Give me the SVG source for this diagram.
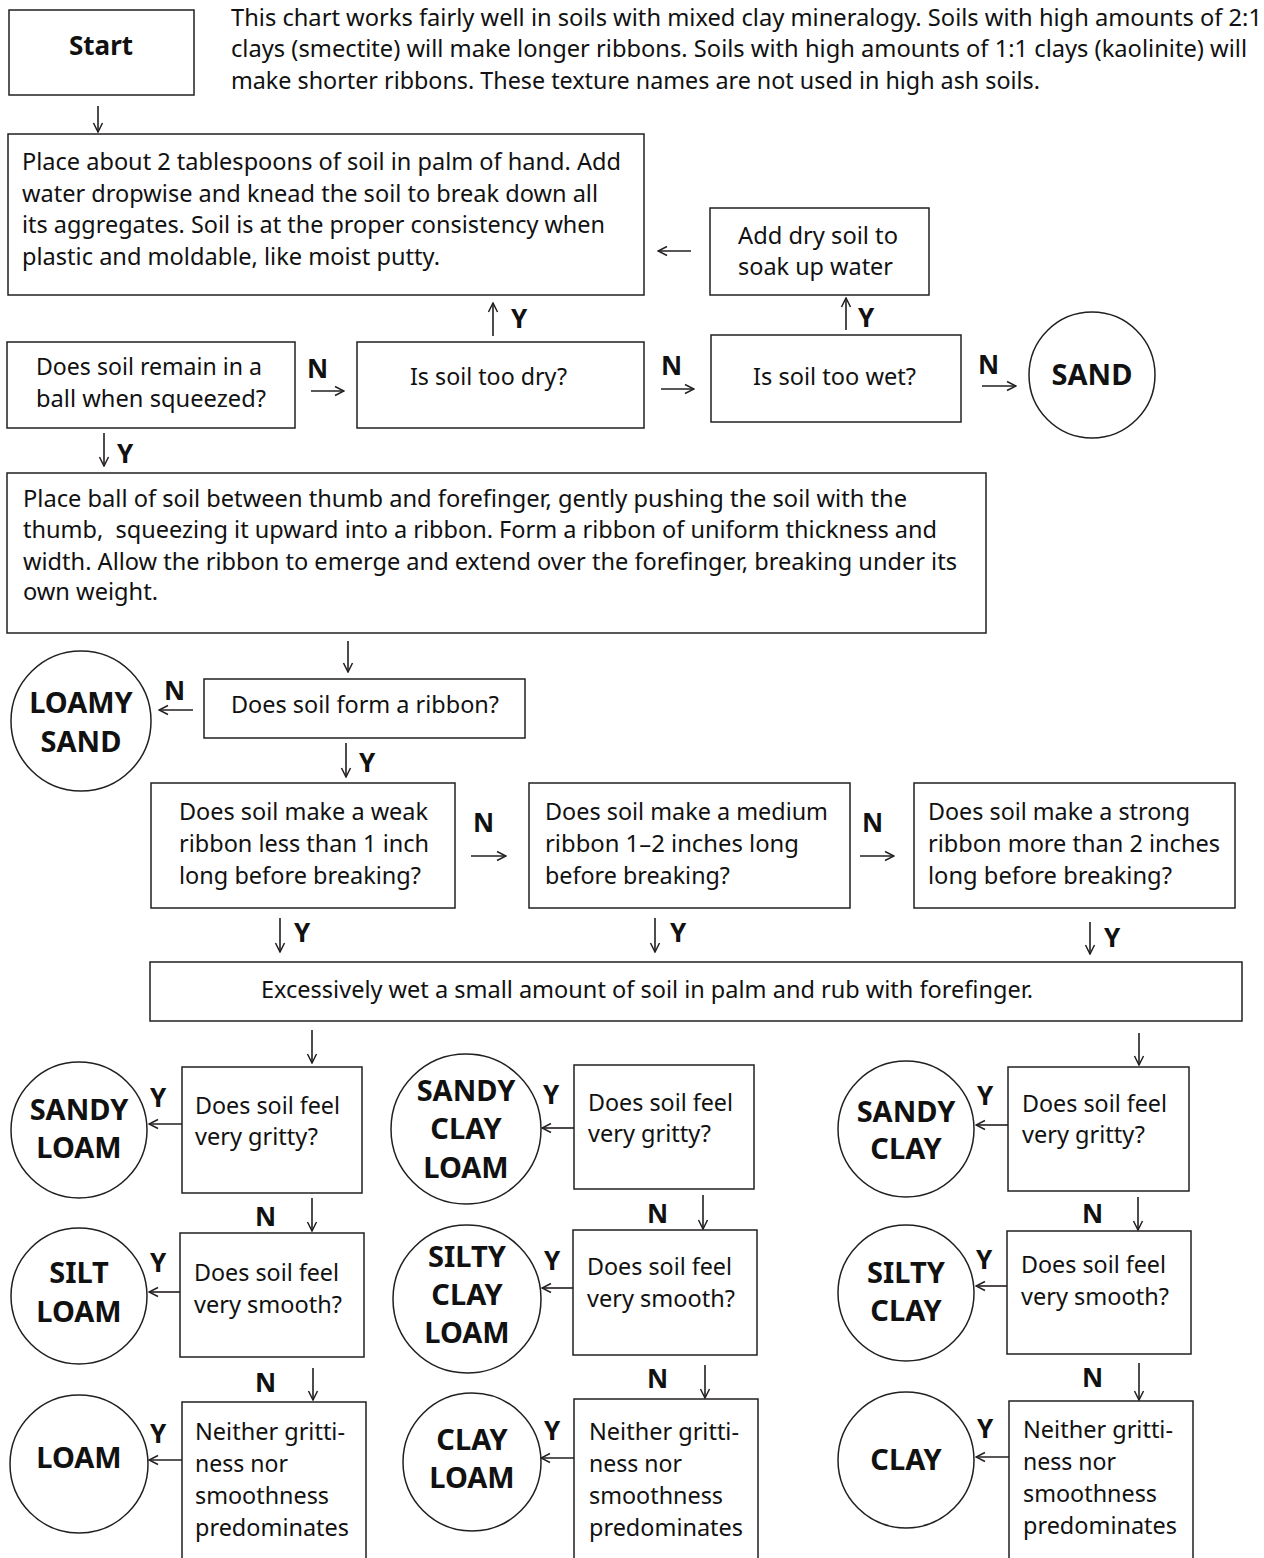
<svg xmlns="http://www.w3.org/2000/svg" width="1264" height="1558" viewBox="0 0 1264 1558">
<defs>
<style>
.box{fill:#fff;stroke:#231f20;stroke-width:1.5}
.open{fill:none;stroke:#231f20;stroke-width:1.5}
.t{font-family:"Noto Sans","Open Sans",sans-serif;font-size:23px;fill:#111}
.b{font-family:"Noto Sans","Open Sans",sans-serif;font-weight:700;font-size:29px;fill:#111;text-anchor:middle}
.lbl{font-family:"Noto Sans","Open Sans",sans-serif;font-weight:700;font-size:26px;fill:#111}
.c{stroke:#231f20;stroke-width:1.6;fill:none;marker-end:url(#ah)}
</style>
<marker id="ah" viewBox="-11 -6 12 12" refX="0" refY="0" markerWidth="12" markerHeight="12" markerUnits="userSpaceOnUse" orient="auto">
<path d="M-9,-4.5 L0,0 L-9,4.5" fill="none" stroke="#231f20" stroke-width="1.5"/>
</marker>
</defs>
<rect width="1264" height="1558" fill="#fff"/>

<g id="start">
<rect class="box" x="9" y="10" width="185" height="85"/>
<text class="b" x="101" y="55" style="font-size:26px">Start</text>
</g>

<g id="intro">
<text class="t" x="231" y="26" textLength="1031" lengthAdjust="spacingAndGlyphs">This chart works fairly well in soils with mixed clay mineralogy. Soils with high amounts of 2:1</text>
<text class="t" x="231" y="57" textLength="1016" lengthAdjust="spacingAndGlyphs">clays (smectite) will make longer ribbons. Soils with high amounts of 1:1 clays (kaolinite) will</text>
<text class="t" x="231" y="89" textLength="809" lengthAdjust="spacingAndGlyphs">make shorter ribbons. These texture names are not used in high ash soils.</text>
</g>

<g id="prepare">
<rect class="box" x="8" y="134" width="636" height="161"/>
<text class="t" x="22" y="170" textLength="599" lengthAdjust="spacingAndGlyphs">Place about 2 tablespoons of soil in palm of hand. Add</text>
<text class="t" x="22" y="202" textLength="576" lengthAdjust="spacingAndGlyphs">water dropwise and knead the soil to break down all</text>
<text class="t" x="22" y="233" textLength="583" lengthAdjust="spacingAndGlyphs">its aggregates. Soil is at the proper consistency when</text>
<text class="t" x="22" y="265" textLength="418" lengthAdjust="spacingAndGlyphs">plastic and moldable, like moist putty.</text>
</g>

<g id="add-dry">
<rect class="box" x="710" y="208" width="219" height="87"/>
<text class="t" x="738" y="244" textLength="160" lengthAdjust="spacingAndGlyphs">Add dry soil to</text>
<text class="t" x="738" y="275" textLength="155" lengthAdjust="spacingAndGlyphs">soak up water</text>
</g>

<g id="ball">
<rect class="box" x="7" y="342" width="288" height="86"/>
<text class="t" x="36" y="375" textLength="226" lengthAdjust="spacingAndGlyphs">Does soil remain in a</text>
<text class="t" x="36" y="407" textLength="230" lengthAdjust="spacingAndGlyphs">ball when squeezed?</text>
</g>

<g id="too-dry">
<rect class="box" x="357" y="342" width="287" height="86"/>
<text class="t" x="410" y="385" textLength="157" lengthAdjust="spacingAndGlyphs">Is soil too dry?</text>
</g>

<g id="too-wet">
<rect class="box" x="711" y="335" width="250" height="87"/>
<text class="t" x="753" y="385" textLength="163" lengthAdjust="spacingAndGlyphs">Is soil too wet?</text>
</g>

<g id="sand">
<circle class="box" cx="1092" cy="375" r="63"/>
<text class="b" x="1092" y="385">SAND</text>
</g>

<g id="ribbon-instr">
<rect class="box" x="7" y="473" width="979" height="160"/>
<text class="t" x="23" y="507" textLength="884" lengthAdjust="spacingAndGlyphs">Place ball of soil between thumb and forefinger, gently pushing the soil with the</text>
<text class="t" x="23" y="538" textLength="914" lengthAdjust="spacingAndGlyphs" style="white-space:pre">thumb,  squeezing it upward into a ribbon. Form a ribbon of uniform thickness and</text>
<text class="t" x="23" y="570" textLength="934" lengthAdjust="spacingAndGlyphs">width. Allow the ribbon to emerge and extend over the forefinger, breaking under its</text>
<text class="t" x="23" y="600" textLength="135" lengthAdjust="spacingAndGlyphs">own weight.</text>
</g>

<g id="form-ribbon">
<rect class="box" x="204" y="679" width="321" height="59"/>
<text class="t" x="231" y="713" textLength="268" lengthAdjust="spacingAndGlyphs">Does soil form a ribbon?</text>
</g>

<g id="loamy-sand">
<circle class="box" cx="81" cy="721" r="70"/>
<text class="b" x="81" y="713">LOAMY</text>
<text class="b" x="81" y="752">SAND</text>
</g>

<g id="weak">
<rect class="box" x="151" y="783" width="304" height="125"/>
<text class="t" x="179" y="820" textLength="249" lengthAdjust="spacingAndGlyphs">Does soil make a weak</text>
<text class="t" x="179" y="852" textLength="250" lengthAdjust="spacingAndGlyphs">ribbon less than 1 inch</text>
<text class="t" x="179" y="884" textLength="242" lengthAdjust="spacingAndGlyphs">long before breaking?</text>
</g>

<g id="medium">
<rect class="box" x="529" y="783" width="321" height="125"/>
<text class="t" x="545" y="820" textLength="283" lengthAdjust="spacingAndGlyphs">Does soil make a medium</text>
<text class="t" x="545" y="852" textLength="254" lengthAdjust="spacingAndGlyphs">ribbon 1–2 inches long</text>
<text class="t" x="545" y="884" textLength="185" lengthAdjust="spacingAndGlyphs">before breaking?</text>
</g>

<g id="strong">
<rect class="box" x="914" y="783" width="321" height="125"/>
<text class="t" x="928" y="820" textLength="262" lengthAdjust="spacingAndGlyphs">Does soil make a strong</text>
<text class="t" x="928" y="852" textLength="292" lengthAdjust="spacingAndGlyphs">ribbon more than 2 inches</text>
<text class="t" x="928" y="884" textLength="244" lengthAdjust="spacingAndGlyphs">long before breaking?</text>
</g>

<g id="wet-rub">
<rect class="box" x="150" y="962" width="1092" height="59"/>
<text class="t" x="261" y="998" textLength="772" lengthAdjust="spacingAndGlyphs">Excessively wet a small amount of soil in palm and rub with forefinger.</text>
</g>

<!-- left column -->
<g id="l-gritty">
<rect class="box" x="182" y="1067" width="180" height="126"/>
<text class="t" x="195" y="1114" textLength="145" lengthAdjust="spacingAndGlyphs">Does soil feel</text>
<text class="t" x="195" y="1145" textLength="123" lengthAdjust="spacingAndGlyphs">very gritty?</text>
</g>
<g id="sandy-loam">
<circle class="box" cx="79" cy="1130" r="68"/>
<text class="b" x="79" y="1120">SANDY</text>
<text class="b" x="79" y="1158">LOAM</text>
</g>
<g id="l-smooth">
<rect class="box" x="180" y="1233" width="184" height="124"/>
<text class="t" x="194" y="1281" textLength="145" lengthAdjust="spacingAndGlyphs">Does soil feel</text>
<text class="t" x="194" y="1313" textLength="148" lengthAdjust="spacingAndGlyphs">very smooth?</text>
</g>
<g id="silt-loam">
<circle class="box" cx="79" cy="1296" r="68"/>
<text class="b" x="79" y="1283">SILT</text>
<text class="b" x="79" y="1322">LOAM</text>
</g>
<g id="l-neither">
<path class="open" d="M182,1558 V1402 H366 V1558"/>
<text class="t" x="195" y="1440" textLength="150" lengthAdjust="spacingAndGlyphs">Neither gritti-</text>
<text class="t" x="195" y="1472" textLength="93" lengthAdjust="spacingAndGlyphs">ness nor</text>
<text class="t" x="195" y="1504" textLength="134" lengthAdjust="spacingAndGlyphs">smoothness</text>
<text class="t" x="195" y="1536" textLength="154" lengthAdjust="spacingAndGlyphs">predominates</text>
</g>
<g id="loam">
<circle class="box" cx="79" cy="1464" r="69"/>
<text class="b" x="79" y="1468">LOAM</text>
</g>

<!-- middle column -->
<g id="m-gritty">
<rect class="box" x="574" y="1065" width="180" height="124"/>
<text class="t" x="588" y="1111" textLength="145" lengthAdjust="spacingAndGlyphs">Does soil feel</text>
<text class="t" x="588" y="1142" textLength="123" lengthAdjust="spacingAndGlyphs">very gritty?</text>
</g>
<g id="sandy-clay-loam">
<circle class="box" cx="466" cy="1129" r="75"/>
<text class="b" x="466" y="1101">SANDY</text>
<text class="b" x="466" y="1139">CLAY</text>
<text class="b" x="466" y="1178">LOAM</text>
</g>
<g id="m-smooth">
<rect class="box" x="573" y="1230" width="184" height="125"/>
<text class="t" x="587" y="1275" textLength="145" lengthAdjust="spacingAndGlyphs">Does soil feel</text>
<text class="t" x="587" y="1307" textLength="148" lengthAdjust="spacingAndGlyphs">very smooth?</text>
</g>
<g id="silty-clay-loam">
<circle class="box" cx="467" cy="1299" r="74"/>
<text class="b" x="467" y="1267">SILTY</text>
<text class="b" x="467" y="1305">CLAY</text>
<text class="b" x="467" y="1343">LOAM</text>
</g>
<g id="m-neither">
<path class="open" d="M574,1558 V1399 H758 V1558"/>
<text class="t" x="589" y="1440" textLength="150" lengthAdjust="spacingAndGlyphs">Neither gritti-</text>
<text class="t" x="589" y="1472" textLength="93" lengthAdjust="spacingAndGlyphs">ness nor</text>
<text class="t" x="589" y="1504" textLength="134" lengthAdjust="spacingAndGlyphs">smoothness</text>
<text class="t" x="589" y="1536" textLength="154" lengthAdjust="spacingAndGlyphs">predominates</text>
</g>
<g id="clay-loam">
<circle class="box" cx="472" cy="1462" r="69"/>
<text class="b" x="472" y="1450">CLAY</text>
<text class="b" x="472" y="1488">LOAM</text>
</g>

<!-- right column -->
<g id="r-gritty">
<rect class="box" x="1008" y="1067" width="181" height="124"/>
<text class="t" x="1022" y="1112" textLength="145" lengthAdjust="spacingAndGlyphs">Does soil feel</text>
<text class="t" x="1022" y="1143" textLength="123" lengthAdjust="spacingAndGlyphs">very gritty?</text>
</g>
<g id="sandy-clay">
<circle class="box" cx="906" cy="1129" r="68"/>
<text class="b" x="906" y="1122">SANDY</text>
<text class="b" x="906" y="1159">CLAY</text>
</g>
<g id="r-smooth">
<rect class="box" x="1007" y="1231" width="184" height="123"/>
<text class="t" x="1021" y="1273" textLength="145" lengthAdjust="spacingAndGlyphs">Does soil feel</text>
<text class="t" x="1021" y="1305" textLength="148" lengthAdjust="spacingAndGlyphs">very smooth?</text>
</g>
<g id="silty-clay">
<circle class="box" cx="906" cy="1293" r="68"/>
<text class="b" x="906" y="1283">SILTY</text>
<text class="b" x="906" y="1321">CLAY</text>
</g>
<g id="r-neither">
<path class="open" d="M1009,1558 V1401 H1193 V1558"/>
<text class="t" x="1023" y="1438" textLength="150" lengthAdjust="spacingAndGlyphs">Neither gritti-</text>
<text class="t" x="1023" y="1470" textLength="93" lengthAdjust="spacingAndGlyphs">ness nor</text>
<text class="t" x="1023" y="1502" textLength="134" lengthAdjust="spacingAndGlyphs">smoothness</text>
<text class="t" x="1023" y="1534" textLength="154" lengthAdjust="spacingAndGlyphs">predominates</text>
</g>
<g id="clay">
<circle class="box" cx="906" cy="1460" r="68"/>
<text class="b" x="906" y="1470">CLAY</text>
</g>

<g id="connectors">
<line class="c" x1="98" y1="106" x2="98" y2="132"/>
<line class="c" x1="691" y1="251" x2="658" y2="251"/>
<line class="c" x1="493" y1="336" x2="493" y2="303"/>
<text class="lbl" x="511" y="328">Y</text>
<line class="c" x1="846" y1="330" x2="846" y2="298"/>
<text class="lbl" x="858" y="327">Y</text>
<line class="c" x1="311" y1="391" x2="344" y2="391"/>
<text class="lbl" x="307" y="378">N</text>
<line class="c" x1="661" y1="389" x2="694" y2="389"/>
<text class="lbl" x="661" y="375">N</text>
<line class="c" x1="982" y1="386" x2="1016" y2="386"/>
<text class="lbl" x="978" y="374">N</text>
<line class="c" x1="104" y1="433" x2="104" y2="466"/>
<text class="lbl" x="117" y="463">Y</text>
<line class="c" x1="348" y1="641" x2="348" y2="672"/>
<line class="c" x1="193" y1="710" x2="159" y2="710"/>
<text class="lbl" x="164" y="700">N</text>
<line class="c" x1="346" y1="743" x2="346" y2="777"/>
<text class="lbl" x="359" y="772">Y</text>
<line class="c" x1="471" y1="856" x2="506" y2="856"/>
<text class="lbl" x="473" y="832">N</text>
<line class="c" x1="860" y1="856" x2="894" y2="856"/>
<text class="lbl" x="862" y="832">N</text>
<line class="c" x1="280" y1="918" x2="280" y2="952"/>
<text class="lbl" x="294" y="942">Y</text>
<line class="c" x1="655" y1="918" x2="655" y2="952"/>
<text class="lbl" x="670" y="942">Y</text>
<line class="c" x1="1090" y1="922" x2="1090" y2="954"/>
<text class="lbl" x="1104" y="947">Y</text>
<line class="c" x1="312" y1="1030" x2="312" y2="1063"/>
<line class="c" x1="1139" y1="1033" x2="1139" y2="1065"/>

<line class="c" x1="182" y1="1124" x2="149" y2="1124"/>
<text class="lbl" x="150" y="1107">Y</text>
<line class="c" x1="312" y1="1198" x2="312" y2="1231"/>
<text class="lbl" x="255" y="1226">N</text>
<line class="c" x1="180" y1="1292" x2="149" y2="1292"/>
<text class="lbl" x="150" y="1272">Y</text>
<line class="c" x1="313" y1="1368" x2="313" y2="1400"/>
<text class="lbl" x="255" y="1392">N</text>
<line class="c" x1="182" y1="1460" x2="149" y2="1460"/>
<text class="lbl" x="150" y="1443">Y</text>

<line class="c" x1="574" y1="1128" x2="542" y2="1128"/>
<text class="lbl" x="543" y="1104">Y</text>
<line class="c" x1="703" y1="1195" x2="703" y2="1229"/>
<text class="lbl" x="647" y="1223">N</text>
<line class="c" x1="573" y1="1288" x2="542" y2="1288"/>
<text class="lbl" x="544" y="1270">Y</text>
<line class="c" x1="705" y1="1365" x2="705" y2="1398"/>
<text class="lbl" x="647" y="1388">N</text>
<line class="c" x1="574" y1="1458" x2="541" y2="1458"/>
<text class="lbl" x="544" y="1440">Y</text>

<line class="c" x1="1008" y1="1125" x2="976" y2="1125"/>
<text class="lbl" x="977" y="1105">Y</text>
<line class="c" x1="1138" y1="1197" x2="1138" y2="1230"/>
<text class="lbl" x="1082" y="1223">N</text>
<line class="c" x1="1007" y1="1286" x2="976" y2="1286"/>
<text class="lbl" x="976" y="1269">Y</text>
<line class="c" x1="1139" y1="1363" x2="1139" y2="1400"/>
<text class="lbl" x="1082" y="1387">N</text>
<line class="c" x1="1009" y1="1457" x2="976" y2="1457"/>
<text class="lbl" x="977" y="1438">Y</text>
</g>
</svg>
